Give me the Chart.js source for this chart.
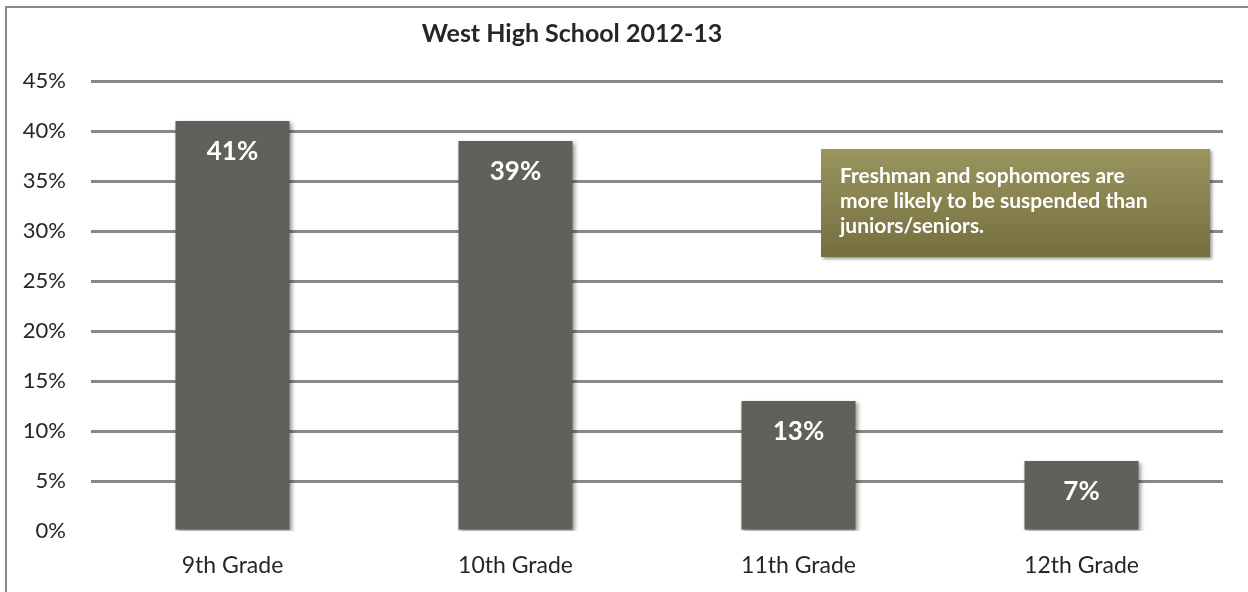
<!DOCTYPE html>
<html>
<head>
<meta charset="utf-8">
<script src="https://cdn.jsdelivr.net/npm/chart.js@4"></script>
<style>
  html, body { margin: 0; padding: 0; background: #fff; }
  #wrap { position: relative; width: 1248px; height: 592px; overflow: hidden; }
  #frame {
    position: absolute; left: 5px; top: 6px; width: 1300px; height: 700px;
    border-left: 2px solid #8a8a8a; border-top: 2px solid #8a8a8a;
  }
  #chart { position: absolute; left: 0; top: 0; }
  #note {
    position: absolute; left: 821px; top: 149px; width: 370px; height: 95px;
    padding: 13px 0 0 19px;
    background: linear-gradient(#9a955f, #756f3f);
    box-shadow: 2px 2px 3px rgba(0, 0, 0, 0.4);
    color: #fff; font: bold 21px Lato, sans-serif; line-height: 25px;
  }
</style>
</head>
<body>
<div id="wrap">
  <div id="frame"></div>
  <canvas id="chart" width="1248" height="592"></canvas>
  <div id="note">Freshman and sophomores are<br>more likely to be suspended than<br>juniors/seniors.</div>
</div>
<script>
const grades = ['9th Grade', '10th Grade', '11th Grade', '12th Grade'];
const suspended = [41, 39, 13, 7];
const titleText = 'West High School 2012-13';

const fontFamily = 'Lato, sans-serif';

// soft drop shadow under the bars, then the value printed inside each bar
const barDecor = {
    id: 'barDecor',
    beforeDatasetsDraw(chart) {
        const ctx = chart.ctx;
        ctx.save();
        ctx.shadowColor = 'rgba(0, 0, 0, 0.4)';
        ctx.shadowBlur = 4;
        ctx.shadowOffsetX = 2;
        ctx.shadowOffsetY = 2;
    },
    afterDatasetsDraw(chart) {
        const ctx = chart.ctx;
        ctx.restore();
        const meta = chart.getDatasetMeta(0);
        ctx.save();
        ctx.fillStyle = '#ffffff';
        ctx.font = 'bold 26px ' + fontFamily;
        ctx.textAlign = 'center';
        ctx.textBaseline = 'middle';
        meta.data.forEach((bar, i) => {
            ctx.fillText(suspended[i] + '%', bar.x, bar.y + 31);
        });
        ctx.restore();
    }
};

const titleDraw = {
    id: 'titleDraw',
    afterDraw(chart) {
        const ctx = chart.ctx;
        ctx.save();
        ctx.fillStyle = '#262626';
        ctx.font = 'bold 25px ' + fontFamily;
        ctx.textAlign = 'center';
        ctx.textBaseline = 'middle';
        ctx.fillText(titleText, 572, 34);
        ctx.restore();
    }
};

new Chart(document.getElementById('chart'), {
    type: 'bar',
    data: {
        labels: grades,
        datasets: [{
            data: suspended,
            backgroundColor: '#61615b',
            borderWidth: 0,
            categoryPercentage: 1,
            barPercentage: 0.403
        }]
    },
    options: {
        responsive: false,
        animation: false,
        layout: { padding: { top: 81, right: 25, bottom: 17, left: 0 } },
        plugins: {
            legend: { display: false },
            title: { display: false },
            tooltip: { enabled: false }
        },
        scales: {
            x: {
                afterFit(scale) { scale.height = 44; },
                grid: { display: false, drawTicks: false },
                border: { display: false },
                ticks: {
                    padding: 21,
                    color: '#262626',
                    font: { family: fontFamily, size: 23 }
                }
            },
            y: {
                min: 0,
                max: 45,
                afterFit(scale) { scale.width = 91; },
                grid: {
                    drawTicks: false,
                    lineWidth: 3,
                    color: c => c.tick.value === 0 ? 'rgba(0,0,0,0)' : '#888888'
                },
                border: { display: false },
                ticks: {
                    stepSize: 5,
                    padding: 25,
                    color: '#262626',
                    font: { family: fontFamily, size: 22 },
                    callback: v => v + '%'
                }
            }
        }
    },
    plugins: [barDecor, titleDraw]
});
</script>
</body>
</html>
